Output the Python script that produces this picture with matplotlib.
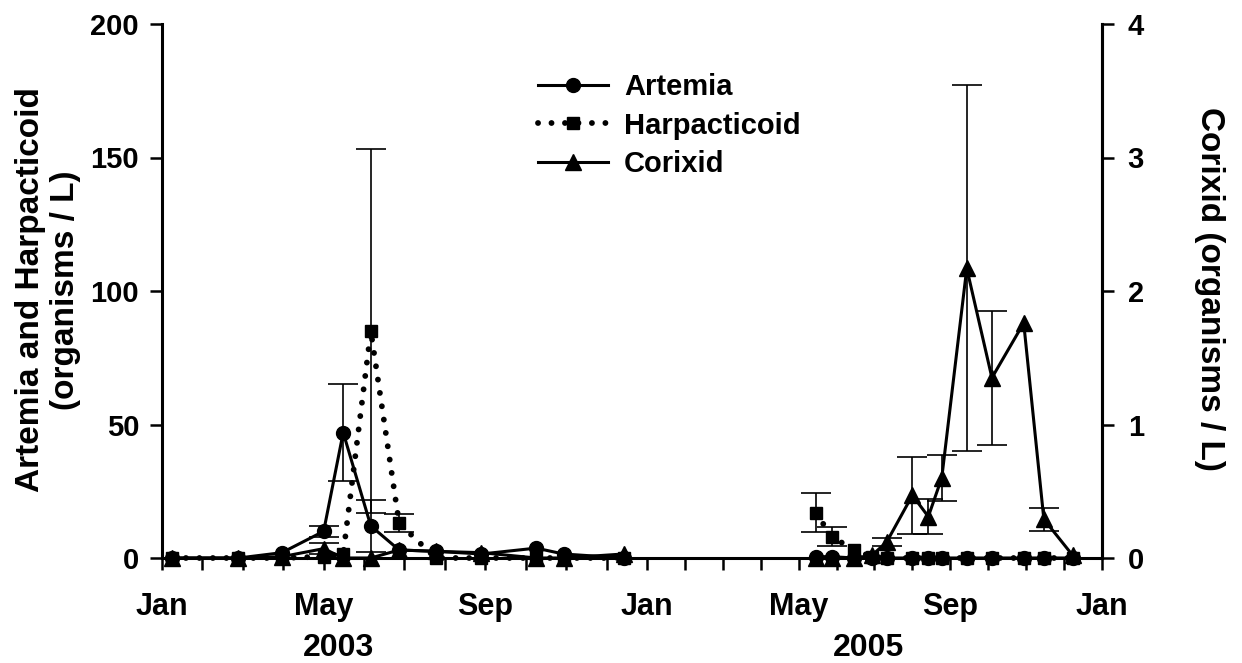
import numpy as np
import pandas as pd
import matplotlib
matplotlib.use("Agg")
import matplotlib.pyplot as plt

plt.rcParams["font.family"] = ["Liberation Sans", "DejaVu Sans"]
plt.rcParams["font.weight"] = "bold"
plt.rcParams["font.size"] = 21

# sampling dates and values
dates_2003 = ["2003-01-09", "2003-02-26", "2003-03-31", "2003-05-01", "2003-05-16",
              "2003-06-06", "2003-06-27", "2003-07-25", "2003-08-29", "2003-10-09",
              "2003-10-30", "2003-12-14"]
artemia_2003 = [0, 0, 2, 10, 47, 12, 3, 2.5, 1.5, 3.7, 1.5, 0]
artemia_err_2003 = [0, 0, 0, 2, 18, 9.7, 0, 0, 0, 0, 0, 0]
harp_2003 = [0, 0, 0, 0.5, 1.5, 85, 13, 0, 0, 0, 0, 0]
harp_err_2003 = [0, 0, 0, 0, 0, 68, 3.3, 0, 0, 0, 0, 0]
corixid_2003 = [0, 0, 0.01, 0.07, 0, 0, 0.06, 0.05, 0.04, 0, 0, 0.03]
corixid_err_2003 = [0, 0, 0, 0.04, 0, 0, 0, 0, 0, 0, 0, 0]

dates_2005 = ["2005-05-15", "2005-05-28", "2005-06-15", "2005-06-29", "2005-07-11",
              "2005-08-01", "2005-08-14", "2005-08-25", "2005-09-14", "2005-10-04",
              "2005-10-30", "2005-11-15", "2005-12-08"]
artemia_2005 = [0.5, 0.5, 0, 0, 0, 0, 0, 0, 0, 0, 0, 0, 0]
artemia_err_2005 = [0, 0, 0, 0, 0, 0, 0, 0, 0, 0, 0, 0, 0]
harp_2005 = [17, 8, 3, 0.5, 0, 0, 0, 0, 0, 0, 0, 0, 0]
harp_err_2005 = [7.3, 3.5, 0, 0, 0, 0, 0, 0, 0, 0, 0, 0, 0]
corixid_2005 = [0, 0, 0, 0.02, 0.12, 0.47, 0.31, 0.6, 2.17, 1.35, 1.76, 0.29, 0.02]
corixid_err_2005 = [0, 0, 0, 0, 0.03, 0.29, 0.13, 0.17, 1.37, 0.5, 0, 0.085, 0]

month_labels = ["Jan", "May", "Sep", "Jan", "May", "Sep", "Jan"]
year_labels = ["2003", "2005"]

# 2005 panel is drawn a bit narrower than 2003 in the original
S2005 = 38 / 40.5


def xpos(dates):
    out = []
    for d in dates:
        ts = pd.Timestamp(d)
        m = ts.month - 1 + (ts.day - 1) / ts.days_in_month
        out.append(m if ts.year == 2003 else 12 + m * S2005)
    return np.array(out)


fig = plt.figure(figsize=(12.42, 6.63), dpi=100)
ax = fig.add_axes([162 / 1242, 1 - 558 / 663, 940 / 1242, 534 / 663])
ax2 = ax.twinx()

lw = 2.2
eb = dict(fmt="none", ecolor="black", elinewidth=1.2, capsize=11, capthick=1.2, clip_on=False)
dotted = (0, (0.01, 2.3))

for dates, art, art_e, harp, harp_e, cor, cor_e, first in [
    (dates_2003, artemia_2003, artemia_err_2003, harp_2003, harp_err_2003,
     corixid_2003, corixid_err_2003, True),
    (dates_2005, artemia_2005, artemia_err_2005, harp_2005, harp_err_2005,
     corixid_2005, corixid_err_2005, False),
]:
    x = xpos(dates)
    art, art_e = np.array(art), np.array(art_e)
    harp, harp_e = np.array(harp), np.array(harp_e)
    cor, cor_e = np.array(cor), np.array(cor_e)

    ax.plot(x, harp, linestyle=dotted, lw=4.2, dash_capstyle="round", color="black",
            marker="s", ms=9, clip_on=False, label="Harpacticoid" if first else None)
    m = harp_e > 0
    ax.errorbar(x[m], harp[m], yerr=harp_e[m], **eb)

    ax.plot(x, art, "-", lw=lw, color="black", marker="o", ms=10, clip_on=False,
            label="Artemia" if first else None)
    m = art_e > 0
    ax.errorbar(x[m], art[m], yerr=art_e[m], **eb)

    ax2.plot(x, cor, "-", lw=lw, color="black", marker="^", ms=11, clip_on=False,
             label="Corixid" if first else None)
    m = cor_e > 0
    ax2.errorbar(x[m], cor[m], yerr=cor_e[m], **eb)

xmax = 12 + 12 * S2005
ax.set_xlim(0, xmax)
ax.set_ylim(0, 200)
ax2.set_ylim(0, 4)

ticks = list(range(13)) + [12 + k * S2005 for k in range(1, 13)]
ax.set_xticks(ticks)
lab = [""] * len(ticks)
for i, t in zip([0, 4, 8, 12, 16, 20, 24], month_labels):
    lab[i] = t
ax.set_xticklabels(lab)
ax.set_yticks([0, 50, 100, 150, 200])
ax2.set_yticks([0, 1, 2, 3, 4])

for a in (ax, ax2):
    a.spines["top"].set_visible(False)
    for s in a.spines.values():
        s.set_linewidth(2.2)
    a.tick_params(direction="out", length=8.5, width=1.8, labelsize=21)
ax.tick_params(axis="x", pad=16, labelsize=22)
ax.tick_params(axis="y", pad=8)
ax2.tick_params(axis="y", pad=10)
ax2.spines["left"].set_visible(False)
ax2.spines["bottom"].set_visible(False)

fig.text(48 / 1242, 1 - 290 / 663, "Artemia and Harpacticoid\n(organisms / L)",
         rotation=90, ha="center", va="center", fontsize=24, linespacing=1.2)
fig.text(1210 / 1242, 1 - 289 / 663, "Corixid (organisms / L)",
         rotation=270, ha="center", va="center", fontsize=24)
fig.text(338 / 1242, 1 - 648 / 663, year_labels[0], ha="center", va="center", fontsize=23)
fig.text(868 / 1242, 1 - 648 / 663, year_labels[1], ha="center", va="center", fontsize=23)

h1, l1 = ax.get_legend_handles_labels()
h2, l2 = ax2.get_legend_handles_labels()
handles = dict(zip(l1 + l2, h1 + h2))
order = ["Artemia", "Harpacticoid", "Corixid"]
ax2.legend([handles[k] for k in order], order, loc="upper left",
           bbox_to_anchor=((538 - 162) / 940, (558 - 73) / 534), frameon=False,
           borderpad=0, borderaxespad=0, handlelength=2.4, handletextpad=0.55,
           labelspacing=0.36, fontsize=21)

fig.savefig("out.png", dpi=100)
